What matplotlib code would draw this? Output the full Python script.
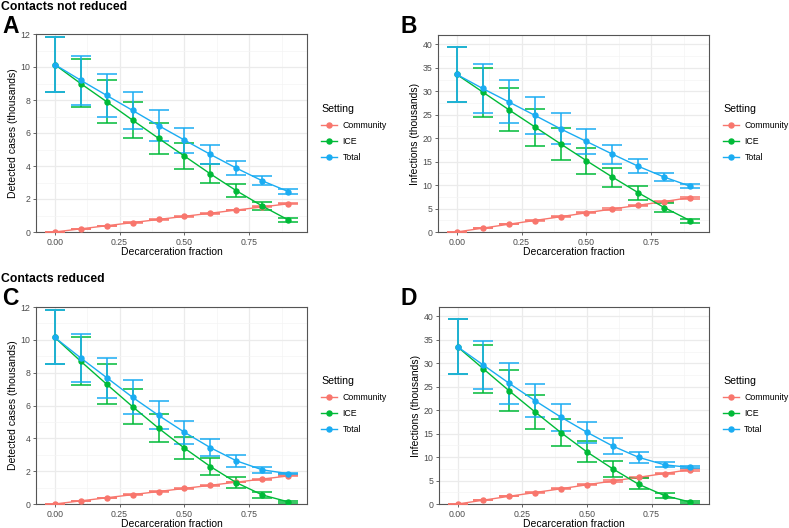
import matplotlib
matplotlib.use("Agg")
import matplotlib.pyplot as plt
from matplotlib.lines import Line2D
from matplotlib.ticker import MultipleLocator

plt.rcParams['font.family'] = ['Liberation Sans', 'DejaVu Sans']

fraction = [0.0, 0.1, 0.2, 0.3, 0.4, 0.5, 0.6, 0.7, 0.8, 0.9]
settings = ['Community', 'ICE', 'Total']
colors = {'Community': '#F8766D', 'ICE': '#00BA38', 'Total': '#1AACF2'}

# detected cases (thousands), contacts not reduced
cases_comm = [0.0, 0.19, 0.38, 0.57, 0.76, 0.95, 1.14, 1.33, 1.52, 1.71]
cases_comm_lo = [0.0, 0.185, 0.37, 0.56, 0.745, 0.935, 1.12, 1.31, 1.49, 1.68]
cases_comm_hi = [0.0, 0.195, 0.39, 0.58, 0.775, 0.965, 1.16, 1.35, 1.55, 1.74]

a_ice = [10.15, 9.0, 7.9, 6.78, 5.68, 4.6, 3.52, 2.5, 1.57, 0.73]
a_ice_lo = [8.5, 7.55, 6.6, 5.67, 4.75, 3.83, 2.95, 2.1, 1.33, 0.62]
a_ice_hi = [11.8, 10.5, 9.2, 7.9, 6.6, 5.37, 4.1, 2.93, 1.83, 0.85]
a_tot = [10.15, 9.2, 8.28, 7.37, 6.45, 5.57, 4.7, 3.87, 3.1, 2.45]
a_tot_lo = [8.5, 7.72, 6.97, 6.25, 5.5, 4.78, 4.1, 3.43, 2.85, 2.32]
a_tot_hi = [11.8, 10.68, 9.58, 8.47, 7.38, 6.32, 5.28, 4.28, 3.38, 2.58]

# infections (thousands), contacts not reduced
inf_comm = [0.0, 0.82, 1.65, 2.45, 3.25, 4.1, 4.9, 5.7, 6.5, 7.35]
inf_comm_lo = [0.0, 0.8, 1.6, 2.38, 3.15, 3.98, 4.76, 5.54, 6.3, 7.14]
inf_comm_hi = [0.0, 0.84, 1.7, 2.52, 3.35, 4.22, 5.04, 5.86, 6.7, 7.56]

b_ice = [33.6, 29.85, 26.1, 22.45, 18.8, 15.2, 11.7, 8.35, 5.2, 2.4]
b_ice_lo = [27.8, 24.6, 21.5, 18.4, 15.4, 12.4, 9.6, 6.8, 4.3, 2.0]
b_ice_hi = [39.5, 35.05, 30.65, 26.3, 22.1, 17.9, 13.75, 9.8, 6.15, 2.8]
b_tot = [33.6, 30.6, 27.75, 24.9, 22.0, 19.3, 16.6, 14.0, 11.7, 9.75]
b_tot_lo = [27.8, 25.4, 23.15, 20.9, 18.7, 16.6, 14.5, 12.6, 10.85, 9.35]
b_tot_hi = [39.5, 35.9, 32.3, 28.75, 25.3, 21.9, 18.6, 15.5, 12.65, 10.2]

# detected cases (thousands), contacts reduced
c_ice = [10.15, 8.7, 7.3, 5.93, 4.62, 3.4, 2.28, 1.3, 0.55, 0.13]
c_ice_lo = [8.5, 7.27, 6.07, 4.9, 3.8, 2.72, 1.77, 0.95, 0.36, 0.08]
c_ice_hi = [11.8, 10.17, 8.55, 6.98, 5.48, 4.1, 2.83, 1.67, 0.75, 0.18]
c_tot = [10.15, 8.9, 7.7, 6.5, 5.4, 4.37, 3.43, 2.63, 2.08, 1.85]
c_tot_lo = [8.5, 7.45, 6.45, 5.48, 4.55, 3.67, 2.92, 2.28, 1.9, 1.8]
c_tot_hi = [11.8, 10.35, 8.92, 7.57, 6.25, 5.05, 3.98, 3.0, 2.28, 1.9]

# infections (thousands), contacts reduced
d_ice = [33.5, 28.8, 24.1, 19.6, 15.2, 11.1, 7.5, 4.2, 1.8, 0.4]
d_ice_lo = [27.75, 23.7, 19.8, 16.0, 12.45, 9.0, 5.85, 3.1, 1.2, 0.2]
d_ice_hi = [39.35, 33.85, 28.5, 23.25, 18.05, 13.35, 9.2, 5.45, 2.45, 0.6]
d_tot = [33.5, 29.6, 25.7, 22.0, 18.5, 15.3, 12.35, 9.95, 8.35, 7.8]
d_tot_lo = [27.75, 24.5, 21.4, 18.5, 15.6, 13.1, 10.7, 8.8, 7.8, 7.6]
d_tot_hi = [39.35, 34.7, 30.05, 25.6, 21.3, 17.5, 14.1, 11.15, 8.9, 8.0]

W, H = 789, 528
fig = plt.figure(figsize=(W / 100, H / 100), dpi=100)


def px_axes(left, top, right, bottom):
    return fig.add_axes([left / W, 1 - bottom / H, (right - left) / W, (bottom - top) / H])


def panel(ax, data, ylabel, ymax, major, minor):
    for name, (vals, lo, hi) in zip(settings, data):
        col = colors[name]
        yerr = [[v - l for v, l in zip(vals, lo)], [h - v for v, h in zip(vals, hi)]]
        ax.errorbar(fraction, vals, yerr=yerr, fmt='none', ecolor=col,
                    elinewidth=1.1, capsize=7, capthick=1.1, zorder=3)
        ax.plot(fraction, vals, color=col, lw=1.0, marker='o', ms=3.6,
                mec=col, mfc=col, zorder=4)
    ax.set_xlim(-0.072, 0.972)
    ax.set_ylim(0, ymax)
    ax.set_xticks([0.0, 0.25, 0.5, 0.75])
    ax.set_xticklabels(['0.00', '0.25', '0.50', '0.75'])
    ax.xaxis.set_minor_locator(MultipleLocator(0.125))
    ax.yaxis.set_major_locator(MultipleLocator(major))
    ax.yaxis.set_minor_locator(MultipleLocator(minor))
    ax.grid(which='major', color='#EBEBEB', lw=0.9)
    ax.grid(which='minor', color='#F4F4F4', lw=0.5)
    ax.set_axisbelow(True)
    ax.tick_params(which='major', labelsize=6.3, colors='#4D4D4D', length=2.5,
                   width=0.6, pad=1.5)
    ax.tick_params(which='minor', length=0)
    for s in ax.spines.values():
        s.set_color('#555555')
        s.set_linewidth(0.8)
    ax.set_xlabel('Decarceration fraction', fontsize=7.5, labelpad=0.5)
    ax.set_ylabel(ylabel, fontsize=7.5, labelpad=2)
    handles = [Line2D([], [], color=colors[n], lw=1.0, marker='o', ms=3.6) for n in settings]
    leg = ax.legend(handles, settings, title='Setting', loc='center left',
                    bbox_to_anchor=(1.04, 0.5), frameon=False, fontsize=6.3,
                    title_fontsize=7.6, handlelength=1.8, handletextpad=0.6,
                    labelspacing=0.8, borderaxespad=0)
    leg._legend_box.align = 'left'


axA = px_axes(36, 34, 307, 232)
panel(axA, [(cases_comm, cases_comm_lo, cases_comm_hi), (a_ice, a_ice_lo, a_ice_hi),
            (a_tot, a_tot_lo, a_tot_hi)], 'Detected cases (thousands)', 12, 2, 1)
axB = px_axes(438, 35, 709, 232)
panel(axB, [(inf_comm, inf_comm_lo, inf_comm_hi), (b_ice, b_ice_lo, b_ice_hi),
            (b_tot, b_tot_lo, b_tot_hi)], 'Infections (thousands)', 42, 5, 2.5)
axC = px_axes(36, 307, 307, 504)
panel(axC, [(cases_comm, cases_comm_lo, cases_comm_hi), (c_ice, c_ice_lo, c_ice_hi),
            (c_tot, c_tot_lo, c_tot_hi)], 'Detected cases (thousands)', 12, 2, 1)
axD = px_axes(439, 307, 709, 504)
panel(axD, [(inf_comm, inf_comm_lo, inf_comm_hi), (d_ice, d_ice_lo, d_ice_hi),
            (d_tot, d_tot_lo, d_tot_hi)], 'Infections (thousands)', 42, 5, 2.5)

fig.text(1 / W, 1 - 10.5 / H, 'Contacts not reduced', fontsize=8.8, fontweight='bold', va='baseline')
fig.text(1 / W, 1 - 282 / H, 'Contacts reduced', fontsize=8.8, fontweight='bold', va='baseline')
for letter, x, y in [('A', 2, 33), ('B', 400, 33), ('C', 2, 305), ('D', 400, 305)]:
    fig.text(x / W, 1 - y / H, letter, fontsize=16.5, fontweight='bold', va='baseline')

fig.savefig('out.png', dpi=100)
